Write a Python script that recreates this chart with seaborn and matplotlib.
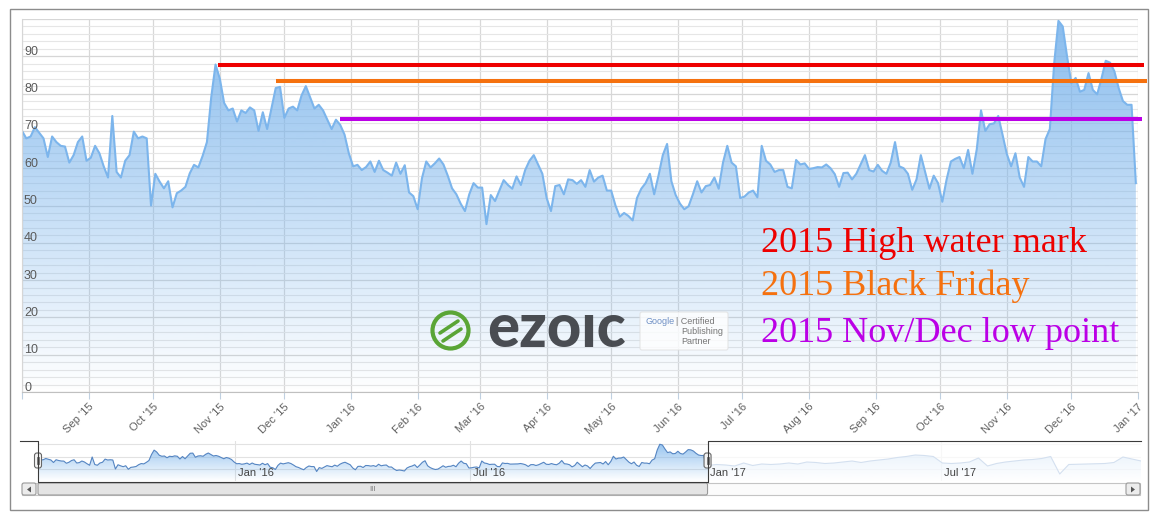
import numpy as np
import pandas as pd
import matplotlib
matplotlib.use("Agg")
import matplotlib.pyplot as plt
import matplotlib.dates as mdates
import matplotlib.patches as mpatches
import matplotlib.transforms as mtransforms
from matplotlib.colors import to_rgb
import seaborn as sns

# one reading every 2 days, starting 1 Aug 2015
values = [
    70, 68, 68.5, 71, 69.5, 68, 63, 68.5, 67, 66,
    65.8, 61.5, 63.5, 67, 68.5, 62, 62.8, 66, 64, 60.5,
    57.5, 74, 59, 57.5, 62, 63.5, 69.8, 68, 68.5, 68,
    50, 58.5, 56.4, 54.6, 56.5, 49.5, 53.3, 54, 55, 58.6,
    60.9, 60.2, 63.3, 67, 79, 87.8, 84, 77.5, 75.5, 76,
    72.5, 75.5, 74.8, 76.3, 75.5, 70, 75, 70.5, 76, 81.5,
    81.8, 73.5, 76, 76.5, 75.5, 79.5, 82, 79, 76, 77,
    75.5, 73, 70.5, 73, 71.6, 69, 64, 60.5, 60.9, 59.5,
    60.3, 61.8, 59, 62, 59.5, 58.8, 58, 61.5, 58.5, 60.8,
    53.5, 52.5, 49, 57.3, 61.8, 60.2, 61.3, 62.6, 61, 58,
    54.6, 53, 50.5, 48.5, 53, 56, 54.8, 54.8, 45, 52.8,
    51.2, 54, 56.8, 55.5, 54.5, 57.8, 55.5, 59.5, 62, 63.5,
    61, 58.5, 52, 48.5, 55.2, 55.5, 53, 57, 56.8, 55.8,
    56.8, 55, 59.5, 56.4, 57.5, 58, 54, 54, 50, 47,
    48, 47.2, 46, 52, 54.5, 56, 58.5, 53, 58, 63.5,
    66.5, 56.5, 52.8, 50.5, 49, 49.8, 53, 56.5, 53.5, 55.2,
    55.5, 57.5, 54.5, 61.5, 66, 61.5, 60.5, 52, 52.4, 53.5,
    54, 52.2, 66, 62, 61, 59, 59.5, 59.5, 55, 54.6,
    62.2, 61, 61.3, 59.8, 60, 60.3, 60.2, 61, 60, 58.4,
    55, 58.7, 58.8, 57, 58.5, 61, 63.5, 59.5, 59.1, 60.9,
    59.3, 58.5, 61.5, 67, 60.5, 60, 58.5, 54.2, 57, 63.5,
    59, 54.5, 58, 56, 51, 57, 61.8, 62.5, 63, 60,
    64.9, 58.5, 65, 75.5, 70, 71.8, 72, 74, 69, 63.8,
    60.5, 64, 57.5, 55, 63, 61.8, 61.8, 60.5, 67.8, 70.5,
    88, 99.5, 98, 90, 82.8, 84.2, 80.5, 81, 85.5, 81,
    79.8, 84, 88.8, 88.3, 86, 81.5, 78, 77, 77, 56,
]
dates = pd.date_range("2015-08-01", periods=len(values), freq="2D")

# navigator continues into 2017 (weekly readings, faded part)
nav_tail_values = [
    57, 59, 58, 56, 62, 57, 60, 59, 60, 62,
    60, 64, 63, 61, 62, 64, 66, 63, 66, 68,
    70, 73, 75, 78, 77, 75, 62, 61, 62, 64,
    72, 56, 61, 64, 66, 68, 69, 71, 75, 40,
    59, 59.5, 60, 60.5, 61, 63, 74, 70, 66,
]
nav_tail_dates = pd.date_range("2017-01-01", periods=len(nav_tail_values), freq="7D")

mark_labels = ["2015 High water mark", "2015 Black Friday", "2015 Nov/Dec low point"]
mark_levels = [87.8, 83.3, 73.2]
mark_start = ["2015-10-31", "2015-11-27", "2015-12-27"]
mark_end = ["2017-01-04", "2017-01-05", "2017-01-03"]
mark_colors = ["#ee0000", "#f5710f", "#bb00e6"]

nav_labels = ["Jan '16", "Jul '16", "Jan '17", "Jul '17"]
nav_label_dates = ["2016-01-01", "2016-07-01", "2017-01-01", "2017-07-01"]

plt.rcParams["font.family"] = ["Liberation Sans", "DejaVu Sans"]


def gradient_fill(ax, x, y, color, alpha_top, ymin, ymax, zorder=1):
    grad = np.zeros((256, 1, 4))
    grad[:, :, :3] = to_rgb(color)
    grad[:, 0, 3] = np.linspace(alpha_top, 0.0, 256)
    xn = mdates.date2num(pd.to_datetime(x))
    im = ax.imshow(grad, aspect="auto", origin="upper", zorder=zorder,
                   extent=[xn.min(), xn.max(), ymin, ymax])
    verts = np.vstack([[xn[0], ymin], np.column_stack([xn, y]), [xn[-1], ymin]])
    clip = mpatches.Polygon(verts, closed=True, fc="none", ec="none")
    ax.add_patch(clip)
    im.set_clip_path(clip)


W, H = 1160, 513
fig = plt.figure(figsize=(W / 100, H / 100), dpi=100)
ax = fig.add_axes([22 / W, 1 - 392 / H, 1116 / W, 373 / H])
nav = fig.add_axes([38 / W, 1 - 481 / H, 1103 / W, 40 / H])
deco = fig.add_axes([0, 0, 1, 1], zorder=10)

# ---- main chart ----
main = pd.DataFrame({"date": dates, "value": values})
x0, x1 = pd.Timestamp("2015-08-01"), pd.Timestamp("2017-01-01")
sns.lineplot(data=main, x="date", y="value", ax=ax, color="#7cb5ec", linewidth=1.5, zorder=2)
gradient_fill(ax, main["date"], main["value"], "#7cb5ec", 0.9, 0, 100)
ax.set_xlim(x0, x1)
ax.set_ylim(0, 100)
ax.set_xlabel("")
ax.set_ylabel("")

months = pd.date_range(x0, x1, freq="MS")
ax.set_xticks(months)
ax.set_xticklabels([""] + [m.strftime("%b '%y") for m in months[1:]],
                   rotation=45, ha="right", rotation_mode="anchor",
                   fontsize=8, color="#606060")
ax.tick_params(axis="x", length=5, width=0.8, color="#c0d0e0", pad=2)
ax.set_yticks(np.arange(0, 101, 10))
ax.set_yticks(np.arange(0, 101, 2), minor=True)
ax.tick_params(axis="y", which="both", length=0, labelleft=False)
ax.grid(axis="y", which="minor", color="#e6e6e6", lw=0.8)
ax.grid(axis="y", which="major", color="#d6d6d6", lw=0.9)
ax.grid(axis="x", which="major", color="#d8d8d8", lw=0.9)
ax.set_axisbelow(True)
for s in ["top", "right"]:
    ax.spines[s].set_visible(False)
ax.spines["left"].set_color("#d6d6d6")
ax.spines["bottom"].set_color("#c0c0c0")

ylab_tr = mtransforms.blended_transform_factory(ax.transAxes, ax.transData)
for v in range(0, 100, 10):
    ax.text(0.0018, v + 0.4, str(v), transform=ylab_tr, ha="left", va="baseline",
            fontsize=9, color="#5a5a5a")

for lvl, s, e, c in zip(mark_levels, mark_start, mark_end, mark_colors):
    ax.plot([pd.Timestamp(s), pd.Timestamp(e)], [lvl, lvl], color=c, lw=2.9,
            clip_on=False, zorder=4, solid_capstyle="butt")

# ---- navigator ----
nav_end = pd.Timestamp("2017-12-03")
nav_df = pd.concat([main, pd.DataFrame({"date": nav_tail_dates, "value": nav_tail_values})],
                   ignore_index=True)
sns.lineplot(data=nav_df, x="date", y="value", ax=nav, color="#5585c2", linewidth=0.8, zorder=2)
gradient_fill(nav, nav_df["date"], nav_df["value"], "#7cb5ec", 0.85, 26, 106)
nav.set_xlim(x0, nav_end)
nav.set_ylim(26, 106)
nav.set_xlabel("")
nav.set_ylabel("")
nav.set_yticks([50, 75, 100])
nav.set_xticks(pd.to_datetime(nav_label_dates))
nav.grid(color="#e2e2e2", lw=0.8)
nav.set_axisbelow(True)
nav.tick_params(length=0, labelbottom=False, labelleft=False)
for s in nav.spines.values():
    s.set_visible(False)
nav.axvspan(x1, nav_end, color="white", alpha=0.75, zorder=3, lw=0)
for lab, d in zip(nav_labels, nav_label_dates):
    nav.annotate(lab, xy=(pd.Timestamp(d), 0.2), xycoords=("data", "axes fraction"),
                 xytext=(2, 0), textcoords="offset points", ha="left", va="center",
                 fontsize=8, color="#444444", zorder=5)

hx0 = nav.transData.transform((mdates.date2num(x0), 0))[0]
hx1 = nav.transData.transform((mdates.date2num(x1), 0))[0]

# ---- decorations in pixel space ----
deco.set_xlim(0, W)
deco.set_ylim(H, 0)
deco.axis("off")
deco.patch.set_alpha(0)

deco.add_patch(mpatches.Rectangle((10, 9), 1138, 501, fill=False, ec="#8c8c8c", lw=1))

# scrollbar
deco.add_patch(mpatches.Rectangle((22, 483), 1118, 12, fc="#fbfbfb", ec="#c4c4c4", lw=0.8))
deco.add_patch(mpatches.FancyBboxPatch((hx0, 483), hx1 - hx0, 12, boxstyle="round,pad=0,rounding_size=2",
                                       fc="#e4e4e4", ec="#9a9a9a", lw=0.8))
deco.text((hx0 + hx1) / 2, 489.5, "III", ha="center", va="center", fontsize=5.5, color="#777777")
for bx in [22, 1126]:
    deco.add_patch(mpatches.FancyBboxPatch((bx, 483), 14, 12, boxstyle="round,pad=0,rounding_size=2",
                                           fc="#ececec", ec="#9a9a9a", lw=0.8))
deco.add_patch(mpatches.Polygon([[31, 486.5], [31, 492.5], [27, 489.5]], fc="#555555", ec="none"))
deco.add_patch(mpatches.Polygon([[1131, 486.5], [1131, 492.5], [1135, 489.5]], fc="#555555", ec="none"))

# navigator outline and handles
deco.plot([20, hx0, hx0, hx1, hx1, 1141], [441, 441, 482, 482, 441, 441], color="#3a3a3a", lw=0.8)
for hx in [hx0, hx1]:
    deco.add_patch(mpatches.FancyBboxPatch((hx - 3.5, 453), 7, 15, boxstyle="round,pad=0,rounding_size=2.5",
                                           fc="#f4f4f4", ec="#666666", lw=0.8))
    deco.plot([hx - 1, hx - 1], [457, 464], color="#666666", lw=0.6)
    deco.plot([hx + 1, hx + 1], [457, 464], color="#666666", lw=0.6)

# annotation texts
for lab, c, base in zip(mark_labels, mark_colors, [252, 295, 342]):
    deco.text(761, base, lab, color=c, fontsize=26, family="Liberation Serif",
              ha="left", va="baseline")

# ezoic logo
green = "#5aa536"
deco.add_patch(mpatches.Circle((450.5, 330.5), 18, fill=False, ec=green, lw=3.0))
deco.plot([440, 458], [333, 321], color=green, lw=2.6, solid_capstyle="round")
deco.plot([443, 461], [341, 329], color=green, lw=2.6, solid_capstyle="round")
deco.text(487, 347, "ezo\u0131c", family="Lato", fontweight="black", fontsize=43,
          color="#3c3f44", ha="left", va="baseline", alpha=0.92)
deco.add_patch(mpatches.FancyBboxPatch((640, 312), 88, 38, boxstyle="round,pad=0,rounding_size=2",
                                       fc="white", ec="#e0e0e0", lw=0.8, alpha=0.8))
deco.text(646, 322, "Google", fontsize=6.5, color="#6d8fc4", va="center")
deco.text(676, 322, "| Certified", fontsize=6.5, color="#777777", va="center")
deco.text(681, 331.5, "Publishing", fontsize=6.5, color="#777777", va="center")
deco.text(681, 341, "Partner", fontsize=6.5, color="#777777", va="center")

fig.savefig("out.png", dpi=100)
